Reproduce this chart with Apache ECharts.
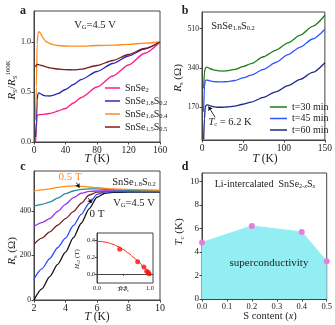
<!DOCTYPE html>
<html>
<head>
<meta charset="utf-8">
<script src="https://cdn.jsdelivr.net/npm/echarts@6/dist/echarts.min.js"></script>
<style>
html, body { margin: 0; padding: 0; background: #fff; }
#chart { width: 335px; height: 325px; }
</style>
</head>
<body>
<div id="chart"></div>
<script>
// ---- panel a : normalised sheet resistance ----
const aT = [2, 3, 4, 5, 6, 7, 8, 10, 12, 15, 20, 25, 30, 40, 50, 60, 80, 100, 120, 140, 160]
const aSnSe2 = [0.0, 0.15, 0.26, 0.27, 0.272, 0.273, 0.274, 0.275, 0.277, 0.28, 0.285, 0.295, 0.31, 0.335, 0.39, 0.445, 0.55, 0.66, 0.77, 0.885, 1.0]
const aS02 = [0.05, 0.2, 0.42, 0.48, 0.49, 0.488, 0.484, 0.475, 0.467, 0.461, 0.46, 0.468, 0.483, 0.525, 0.575, 0.625, 0.705, 0.785, 0.86, 0.93, 1.0]
const aS04 = [0.22, 0.55, 0.98, 1.08, 1.1, 1.1, 1.09, 1.06, 1.035, 1.005, 0.985, 0.972, 0.965, 0.96, 0.958, 0.958, 0.965, 0.968, 0.977, 0.988, 1.0]
const aS05 = [0.75, 0.77, 0.775, 0.775, 0.773, 0.771, 0.769, 0.765, 0.76, 0.752, 0.742, 0.735, 0.73, 0.724, 0.721, 0.728, 0.765, 0.815, 0.875, 0.935, 1.0]

// ---- panel b : R_s vs T for intercalation times ----
const bT = [2, 3, 4, 5, 6, 7, 8, 10, 15, 20, 25, 30, 40, 50, 60, 75, 90, 105, 120, 135, 150]
const b30 = [250, 320, 338, 342, 343, 342, 340, 336, 330, 327, 326, 327, 333, 345, 358, 388, 416, 448, 482, 520, 568]
const b45 = [150, 260, 282, 286, 287, 286, 285, 283, 280, 279, 279, 280, 285, 296, 308, 333, 363, 397, 430, 465, 507]
const b60 = [30, 120, 170, 177, 179, 179, 178, 175, 171, 169, 169, 170, 174, 182, 191, 212, 236, 263, 290, 320, 362]

// ---- panel c : field dependence 0 T ... 0.5 T ----
const cT = [2, 2.5, 3, 3.5, 4, 4.5, 5, 5.5, 6, 6.5, 7, 8, 9, 10]
const c00 = [0, 50, 105, 160, 215, 280, 345, 410, 462, 480, 484, 485, 485, 485]
const c01 = [95, 140, 186, 235, 278, 335, 385, 435, 475, 486, 487, 487, 487, 487]
const c02 = [251, 278, 306, 336, 366, 397, 435, 472, 485, 488, 489, 489, 488, 488]
const c03 = [331, 348, 366, 398, 430, 460, 480, 488, 490, 490, 490, 490, 489, 489]
const c04 = [422, 430, 440, 458, 478, 490, 497, 500, 500, 498, 496, 494, 493, 492]
const c05 = [490, 495, 500, 506, 511, 513, 511, 508, 505, 502, 500, 497, 495, 494]

// inset : Hc2 vs T/Tc
const insT = [0.43, 0.77, 0.887, 0.94, 0.97, 0.985]
const insH = [0.295, 0.144, 0.083, 0.03, 0.015, 0.0]
const fitT = [0, 0.1, 0.2, 0.3, 0.4, 0.5, 0.6, 0.7, 0.8, 0.9, 1.0]
const fitH = [0.39, 0.386, 0.375, 0.355, 0.327, 0.29, 0.247, 0.193, 0.136, 0.072, 0.0]

// ---- panel d : phase diagram ----
const dX = [0.0, 0.2, 0.4, 0.5]
const dTc = [4.8, 6.2, 5.7, 3.2]

const zip = (xs, ys) => xs.map((x, i) => [x, ys[i]])
const serif = '"Liberation Serif", "DejaVu Serif", serif'
const ink = '#222'

const grids = [
    { left: 34, top: 11, width: 126, height: 131 },
    { left: 202, top: 12, width: 126, height: 128 },
    { left: 34, top: 171, width: 126, height: 129 },
    { left: 202, top: 173, width: 125, height: 126 },
    { left: 97, top: 233, width: 56, height: 50, z: 5, backgroundColor: '#fff' }
].map(g => Object.assign({ show: true, borderColor: '#444', borderWidth: 1 }, g))

function axis(gi, min, max, ticks, fontSize, fmt, extra) {
    return Object.assign({
        type: 'value', gridIndex: gi, min: min, max: max,
        axisLine: { show: true, lineStyle: { color: '#444', width: 1 } },
        axisTick: { show: true, customValues: ticks, length: 2.5, lineStyle: { color: '#444' } },
        axisLabel: { customValues: ticks, fontSize: fontSize, fontFamily: serif, color: ink, margin: 3,
            formatter: fmt || (v => String(v)) },
        splitLine: { show: false }
    }, extra || {})
}
const f1 = v => v.toFixed(1)

const xAxes = [
    axis(0, 0, 160, [0, 40, 80, 120, 160], 9.5),
    axis(1, 0, 150, [0, 50, 100, 150], 9.5),
    axis(2, 2, 10, [2, 4, 6, 8, 10], 10),
    axis(3, 0, 0.5, [0, 0.1, 0.2, 0.3, 0.4, 0.5], 8.5, f1),
    axis(4, 0, 1.06, [0, 0.5, 1.0], 6.5, f1, { z: 6 })
]
const yAxes = [
    axis(0, 0, 1.31, [0, 0.5, 1.0], 8, f1),
    axis(1, 27, 582, [170, 340, 510], 7.5),
    axis(2, 0, 580, [0, 200, 400], 7.5),
    axis(3, 0, 10.7, [0, 2, 4, 6, 8, 10], 9),
    axis(4, -0.11, 0.49, [0, 0.2, 0.4], 6.5, f1, { z: 6 })
]
xAxes[4].axisLabel.margin = 2
yAxes[4].axisLabel.margin = 2
xAxes[4].axisTick.length = 2
yAxes[4].axisTick.length = 2

function curve(name, gi, data, color, extra) {
    return Object.assign({
        name: name, type: 'line', xAxisIndex: gi, yAxisIndex: gi, data: data,
        showSymbol: false, symbol: 'none', smooth: 0.25, smoothMonotone: 'x',
        lineStyle: { color: color, width: 1.3 }, itemStyle: { color: color },
        silent: true, animation: false
    }, extra || {})
}

function arrow(from, to) {
    return {
        silent: true, animation: false, symbol: ['none', 'arrow'], symbolSize: 4,
        label: { show: false }, lineStyle: { color: '#000', width: 0.8, type: 'solid' },
        data: [[{ coord: from }, { coord: to }]]
    }
}

const series = [
    curve('SnSe2', 0, zip(aT, aSnSe2), '#ff1c8d'),
    curve('SnSe1.8S0.2', 0, zip(aT, aS02), '#2a2ab5'),
    curve('SnSe1.6S0.4', 0, zip(aT, aS04), '#ff8c1a'),
    curve('SnSe1.5S0.5', 0, zip(aT, aS05), '#7a1c1c'),

    curve('t=30 min', 1, zip(bT, b30), '#1b7d1b'),
    curve('t=45 min', 1, zip(bT, b45), '#2f55ff'),
    curve('t=60 min', 1, zip(bT, b60), '#1c2a8a', { markLine: arrow([16, 125], [8, 172]) }),

    curve('0 T', 2, zip(cT, c00), '#111111'),
    curve('0.1 T', 2, zip(cT, c01), '#2a4cff'),
    curve('0.2 T', 2, zip(cT, c02), '#7d2222'),
    curve('0.3 T', 2, zip(cT, c03), '#9b34ef', { markLine: arrow([5.45, 458], [5.65, 436]) }),
    curve('0.4 T', 2, zip(cT, c04), '#248c8c'),
    curve('0.5 T', 2, zip(cT, c05), '#ff8c1a', { markLine: arrow([4.7, 528], [4.88, 505]) }),

    curve('fit', 4, zip(fitT, fitH), '#ff2020', { z: 7, lineStyle: { color: '#ff2020', width: 1 } }),
    { name: 'Hc2', type: 'scatter', xAxisIndex: 4, yAxisIndex: 4, data: zip(insT, insH),
      symbolSize: 5, itemStyle: { color: '#ff1010' }, z: 8, silent: true, animation: false },

    { name: 'Tc', type: 'line', xAxisIndex: 3, yAxisIndex: 3, data: zip(dX, dTc),
      symbol: 'circle', symbolSize: 6, showSymbol: true,
      lineStyle: { color: '#92eef3', width: 1 }, itemStyle: { color: '#e57fdc' },
      areaStyle: { color: '#92eef3', opacity: 1 }, silent: true, animation: false }
]

const sub = { fontSize: 6.5, fontFamily: serif, padding: [5, 0, 0, 0] }

const aLabels = {
    'SnSe2': 'SnSe{s|2}',
    'SnSe1.8S0.2': 'SnSe{s|1.8}S{s|0.2}',
    'SnSe1.6S0.4': 'SnSe{s|1.6}S{s|0.4}',
    'SnSe1.5S0.5': 'SnSe{s|1.5}S{s|0.5}'
}

const legends = [
    { data: Object.keys(aLabels), orient: 'vertical', left: 100, top: 78, itemGap: 2,
      itemWidth: 15, itemHeight: 1.5, icon: 'rect',
      formatter: n => aLabels[n],
      textStyle: { fontFamily: serif, fontSize: 10, color: ink, rich: { s: sub } } },
    { data: ['t=30 min', 't=45 min', 't=60 min'], orient: 'vertical', left: 265, top: 97, itemGap: 1.5,
      itemWidth: 17, itemHeight: 1.5, icon: 'rect',
      textStyle: { fontFamily: serif, fontSize: 10, color: ink } }
]

// free text: s = subscript, p = superscript, i = italic, t = italic subscript
function txt(x, y, text, size, opts) {
    opts = opts || {}
    const small = size * 0.62
    const st = Object.assign({
        text: text, fontFamily: serif, fontSize: size, fill: ink,
        align: 'center', verticalAlign: 'middle',
        rich: {
            s: { fontSize: small, fontFamily: serif, padding: [size * 0.5, 0, 0, 0] },
            p: { fontSize: small, fontFamily: serif, padding: [0, 0, size * 0.6, 0] },
            i: { fontSize: size, fontFamily: serif, fontStyle: 'italic' },
            t: { fontSize: small, fontFamily: serif, fontStyle: 'italic', padding: [size * 0.5, 0, 0, 0] }
        }
    }, opts.style || {})
    return { type: 'text', x: x, y: y, rotation: opts.rotation || 0, silent: true, z: 20, style: st }
}
const up = Math.PI / 2
const bold = { style: { fontWeight: 'bold' } }

const graphic = [
    txt(23, 11, 'a', 12, bold),
    txt(185, 11, 'b', 12, bold),
    txt(23, 167, 'c', 12, bold),
    txt(185, 167, 'd', 12, bold),

    txt(95, 25, 'V{s|G}=4.5 V', 10.5),
    txt(12, 80, '{i|R}{s|S}/{i|R}{s|S}{p|160K}', 11, { rotation: up }),
    txt(97, 159, '{i|T} (K)', 11.5),

    txt(233, 26, 'SnSe{s|1.8}S{s|0.2}', 10.5),
    txt(230, 122, '{i|T}{s|c} = 6.2 K', 10.5),
    txt(178, 78, '{i|R}{s|s} (Ω)', 11, { rotation: up }),
    txt(265, 159, '{i|T} (K)', 11.5),

    txt(70, 177, '0.5 T', 11, { style: { fill: '#ff8c1a' } }),
    txt(134, 182, 'SnSe{s|1.8}S{s|0.2}', 10.5),
    txt(134, 203, 'V{s|G}=4.5 V', 10.5),
    txt(97, 214, '0 T', 11),
    txt(12, 251, '{i|R}{s|s} (Ω)', 11, { rotation: up }),
    txt(97, 317, '{i|T} (K)', 11.5),
    txt(77, 259, '{i|H}{s|c2} (T)', 7, { rotation: up }),
    txt(123, 289, '{i|T}/{i|T}{s|c}', 7),

    txt(265, 184, 'Li-intercalated  SnSe{s|2-}{t|x}S{t|x}', 10),
    txt(269, 263, 'superconductivity', 11),
    txt(179, 232, '{i|T}{s|c} (K)', 11, { rotation: up }),
    txt(270, 316, 'S content ({i|x})', 10.5)
]

const chart = echarts.init(document.getElementById('chart'), null, { renderer: 'canvas' })
chart.setOption({
    animation: false,
    backgroundColor: '#fff',
    grid: grids,
    xAxis: xAxes,
    yAxis: yAxes,
    legend: legends,
    series: series,
    graphic: graphic
})
</script>
</body>
</html>
